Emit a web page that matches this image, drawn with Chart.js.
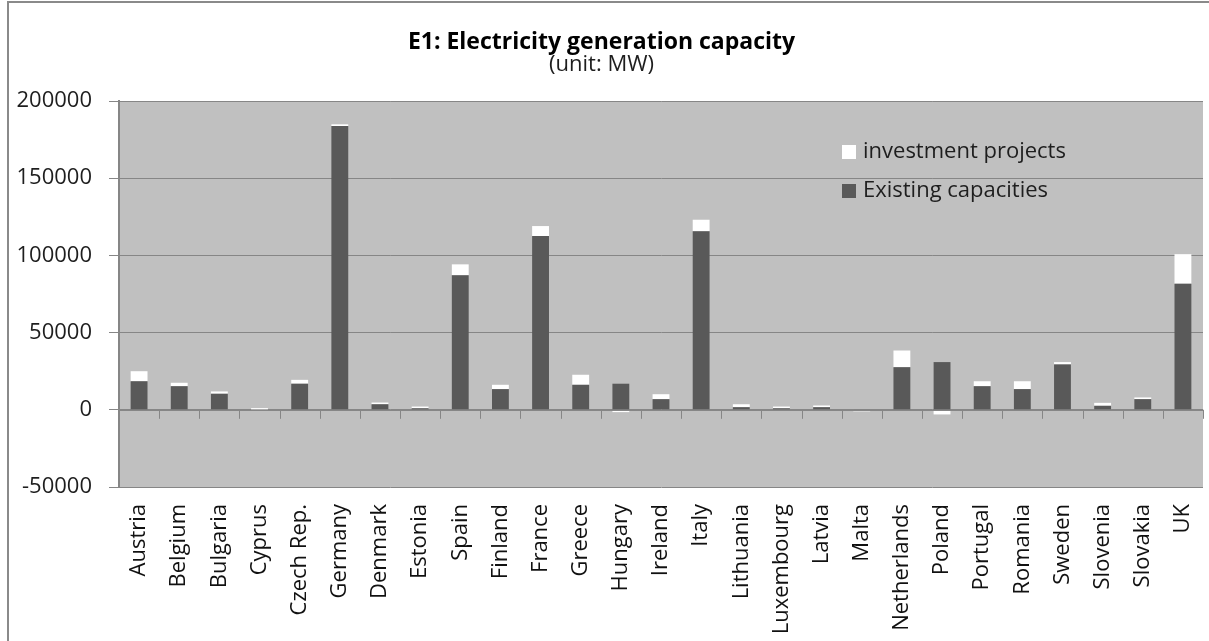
<!DOCTYPE html>
<html><head><meta charset="utf-8">
<script src="https://cdn.jsdelivr.net/npm/chart.js@4.4.1/dist/chart.umd.min.js"></script>
<style>html,body{margin:0;padding:0;background:#fff;} canvas{display:block;}</style>
</head><body>
<canvas id="c" width="1209" height="641"></canvas>
<script>
const categories = ['Austria','Belgium','Bulgaria','Cyprus','Czech Rep.','Germany','Denmark','Estonia','Spain','Finland','France','Greece','Hungary','Ireland','Italy','Lithuania','Luxembourg','Latvia','Malta','Netherlands','Poland','Portugal','Romania','Sweden','Slovenia','Slovakia','UK'];
const existing = [18500,15300,10400,200,16900,183800,3600,1000,87200,13400,112500,16200,16900,6900,115700,1700,1000,1700,300,27600,30900,15300,13400,29400,2600,6900,81700];
const investment = [6500,2200,1500,900,2500,1100,1100,1100,7000,2800,6500,6500,-1500,3200,7400,1900,1100,1100,-1000,10800,-3000,3200,5100,1500,1900,1100,19100];
const yMin = -50000, yMax = 200000, yStep = 50000;
const seriesNames = ['Existing capacities','investment projects'];
const titleText = 'E1: Electricity generation capacity';
const subtitleText = '(unit: MW)';

const GRID = '#868686';
const DARK = '#595959';

const bgPlugin = {
  id: 'bg',
  beforeDraw(chart) {
    const {ctx, chartArea: a} = chart;
    ctx.save();
    ctx.fillStyle = '#fff';
    ctx.fillRect(0, 0, chart.width, chart.height);
    ctx.strokeStyle = '#8a8a8a';
    ctx.lineWidth = 2;
    ctx.beginPath();
    ctx.moveTo(8, chart.height);
    ctx.lineTo(8, 2);
    ctx.lineTo(chart.width, 2);
    ctx.stroke();
    ctx.fillStyle = '#c0c0c0';
    ctx.fillRect(a.left, a.top, a.right - a.left, a.bottom - a.top);
    ctx.restore();
  }
};

const zeroTicks = {
  id: 'zeroTicks',
  afterDatasetsDraw(chart) {
    const {ctx, chartArea: a} = chart;
    const xs = chart.scales.x, ys = chart.scales.y;
    const y0 = ys.getPixelForValue(0);
    ctx.save();
    ctx.strokeStyle = GRID;
    ctx.lineWidth = 1;
    ctx.beginPath();
    ctx.moveTo(a.left, Math.round(y0) + 0.5);
    ctx.lineTo(a.right, Math.round(y0) + 0.5);
    const n = categories.length;
    for (let i = 0; i <= n; i++) {
      let x;
      if (i === 0) x = a.left;
      else if (i === n) x = a.right;
      else x = (xs.getPixelForValue(i - 1) + xs.getPixelForValue(i)) / 2;
      x = Math.round(x) + 0.5;
      ctx.moveTo(x, y0);
      ctx.lineTo(x, y0 + 9);
    }
    ctx.stroke();
    ctx.restore();
  }
};

const legendPlugin = {
  id: 'customLegend',
  afterDraw(chart) {
    const {ctx, chartArea: a} = chart;
    const items = [chart.data.datasets[1], chart.data.datasets[0]];
    ctx.save();
    ctx.font = '22px "Open Sans"';
    ctx.textBaseline = 'middle';
    ctx.textAlign = 'left';
    items.forEach((ds, i) => {
      const cy = a.top + 51 + i * 39;
      const bx = a.left + 723;
      ctx.fillStyle = ds.backgroundColor;
      ctx.fillRect(bx, cy - 7, 14, 14);
      ctx.fillStyle = '#1e1e1e';
      ctx.fillText(ds.label, bx + 21, cy);
    });
    ctx.restore();
  }
};

new Chart(document.getElementById('c'), {
  type: 'bar',
  data: {
    labels: categories,
    datasets: [
      { label: seriesNames[0], data: existing, backgroundColor: DARK, borderWidth: 0, barPercentage: 0.42, categoryPercentage: 1 },
      { label: seriesNames[1], data: investment, backgroundColor: '#ffffff', borderWidth: 0, barPercentage: 0.42, categoryPercentage: 1 }
    ]
  },
  options: {
    responsive: false,
    animation: false,
    layout: { padding: { left: 0, right: 6, top: 0, bottom: 0 } },
    plugins: {
      legend: { display: false },
      tooltip: { enabled: false },
      title: {
        display: true, text: titleText, color: '#000',
        font: { family: '"Open Sans"', size: 23, weight: 'bold', lineHeight: 1.0 },
        padding: { top: 31, bottom: 0 }
      },
      subtitle: {
        display: true, text: subtitleText, color: '#1e1e1e',
        font: { family: '"Open Sans"', size: 22, weight: 'normal', lineHeight: 1.0 },
        padding: { top: 0, bottom: 25 }
      }
    },
    scales: {
      x: {
        stacked: true,
        grid: { display: false, drawTicks: false },
        border: { display: false },
        ticks: {
          autoSkip: false, minRotation: 90, maxRotation: 90, padding: 17,
          color: '#111', font: { family: '"Open Sans"', size: 22 }
        },
        afterFit(s) { s.height = 154; s.paddingLeft = 0; s.paddingRight = 0; }
      },
      y: {
        stacked: true,
        min: yMin, max: yMax,
        grid: { color: GRID, lineWidth: 1, tickLength: 10, tickColor: GRID },
        border: { display: true, color: GRID, width: 2 },
        ticks: {
          stepSize: yStep, padding: 17, color: '#1e1e1e',
          font: { family: '"Open Sans"', size: 22 },
          callback: v => String(v)
        },
        afterFit(s) { s.width = 119; s.paddingTop = 0; s.paddingBottom = 0; }
      }
    }
  },
  plugins: [bgPlugin, zeroTicks, legendPlugin]
});
</script>
</body></html>
